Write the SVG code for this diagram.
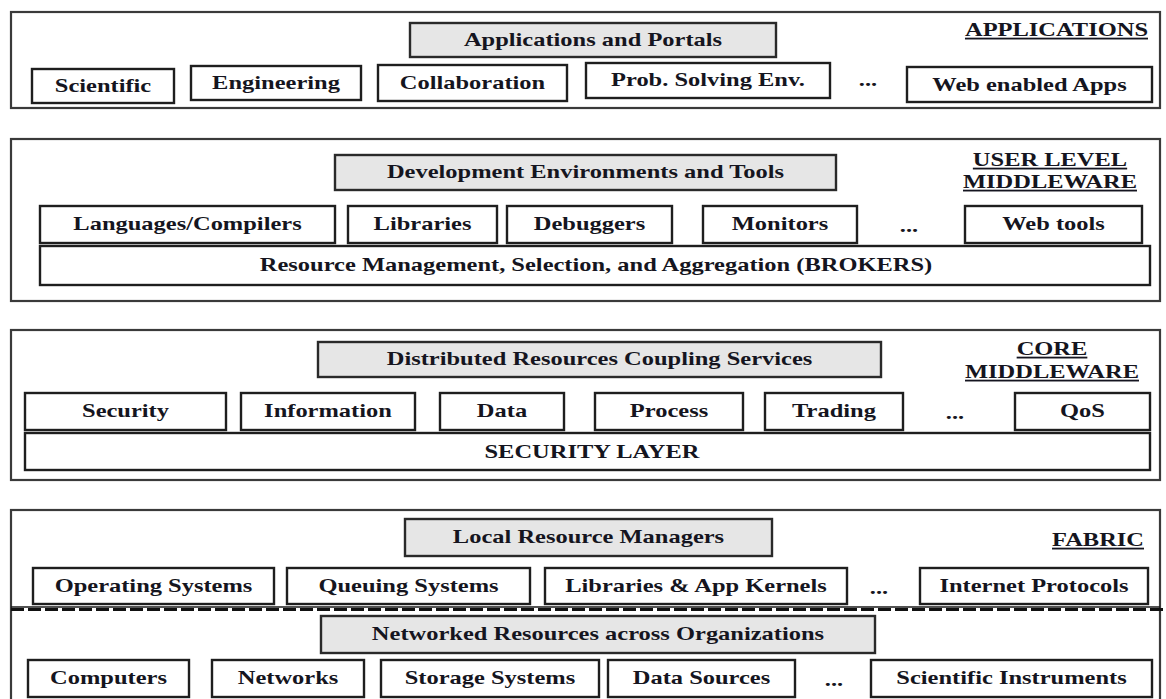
<svg xmlns="http://www.w3.org/2000/svg" width="1166" height="699" viewBox="0 0 1166 699">
  <style>
    .layer { fill: #ffffff; stroke: #3a3a3a; stroke-width: 2.2; }
    .box { fill: #ffffff; stroke: #1e1e1e; stroke-width: 2.4; }
    .head { fill: #e6e6e6; stroke: #2a2a2a; stroke-width: 2.4; }
    text { font-family: "Liberation Serif", "Times New Roman", serif; font-weight: bold; font-size: 18px; fill: #151520; text-anchor: middle; }
    .tag { text-decoration: underline; }
    .end { text-anchor: end; }
  </style>
  <rect width="1166" height="699" fill="#ffffff"/>

  <!-- Applications layer -->
  <g id="layer-applications">
    <rect class="layer" x="11" y="12" width="1149" height="96"/>
    <text class="tag end" transform="translate(1148 36) scale(1.36 1)">APPLICATIONS</text>
  </g>
  <g id="apps-portals"><rect class="head" x="410" y="23" width="366" height="34"/><text transform="translate(593 46) scale(1.36 1)">Applications and Portals</text></g>
  <g id="app-scientific"><rect class="box" x="32" y="69" width="142" height="34"/><text transform="translate(103 92) scale(1.36 1)">Scientific</text></g>
  <g id="app-engineering"><rect class="box" x="191" y="66" width="170" height="34"/><text transform="translate(276 89) scale(1.36 1)">Engineering</text></g>
  <g id="app-collaboration"><rect class="box" x="378" y="65" width="189" height="36"/><text transform="translate(472.5 89) scale(1.36 1)">Collaboration</text></g>
  <g id="app-pse"><rect class="box" x="586" y="63" width="244" height="35"/><text transform="translate(708 86) scale(1.36 1)">Prob. Solving Env.</text></g>
  <g id="app-more"><text transform="translate(868 86) scale(1.36 1)">...</text></g>
  <g id="app-web"><rect class="box" x="907" y="67" width="245" height="35"/><text transform="translate(1029.5 91) scale(1.36 1)">Web enabled Apps</text></g>

  <!-- User level middleware layer -->
  <g id="layer-user-middleware">
    <rect class="layer" x="11" y="139" width="1149" height="162"/>
    <text class="tag" transform="translate(1050 166) scale(1.36 1)">USER LEVEL</text>
    <text class="tag" transform="translate(1050 188) scale(1.36 1)">MIDDLEWARE</text>
  </g>
  <g id="dev-tools"><rect class="head" x="335" y="155" width="501" height="35"/><text transform="translate(585.5 178) scale(1.36 1)">Development Environments and Tools</text></g>
  <g id="tool-languages"><rect class="box" x="40" y="206" width="295" height="37"/><text transform="translate(187.5 230) scale(1.36 1)">Languages/Compilers</text></g>
  <g id="tool-libraries"><rect class="box" x="348" y="206" width="149" height="37"/><text transform="translate(422.5 230) scale(1.36 1)">Libraries</text></g>
  <g id="tool-debuggers"><rect class="box" x="507" y="206" width="165" height="37"/><text transform="translate(589.5 230) scale(1.36 1)">Debuggers</text></g>
  <g id="tool-monitors"><rect class="box" x="703" y="206" width="154" height="37"/><text transform="translate(780 230) scale(1.36 1)">Monitors</text></g>
  <g id="tool-more"><text transform="translate(909 232) scale(1.36 1)">...</text></g>
  <g id="tool-web"><rect class="box" x="965" y="206" width="177" height="37"/><text transform="translate(1053.5 230) scale(1.36 1)">Web tools</text></g>
  <g id="brokers"><rect class="box" x="40" y="246" width="1110" height="39"/><text transform="translate(596 271) scale(1.36 1)">Resource Management, Selection, and Aggregation (BROKERS)</text></g>

  <!-- Core middleware layer -->
  <g id="layer-core-middleware">
    <rect class="layer" x="11" y="330" width="1149" height="150"/>
    <text class="tag" transform="translate(1052 355) scale(1.36 1)">CORE</text>
    <text class="tag" transform="translate(1052 378) scale(1.36 1)">MIDDLEWARE</text>
  </g>
  <g id="coupling-services"><rect class="head" x="318" y="342" width="563" height="35"/><text transform="translate(599.5 365) scale(1.36 1)">Distributed Resources Coupling Services</text></g>
  <g id="svc-security"><rect class="box" x="25" y="393" width="201" height="37"/><text transform="translate(125.5 417) scale(1.36 1)">Security</text></g>
  <g id="svc-information"><rect class="box" x="241" y="393" width="174" height="37"/><text transform="translate(328 417) scale(1.36 1)">Information</text></g>
  <g id="svc-data"><rect class="box" x="440" y="393" width="124" height="37"/><text transform="translate(502 417) scale(1.36 1)">Data</text></g>
  <g id="svc-process"><rect class="box" x="595" y="393" width="148" height="37"/><text transform="translate(669 417) scale(1.36 1)">Process</text></g>
  <g id="svc-trading"><rect class="box" x="765" y="393" width="138" height="37"/><text transform="translate(834 417) scale(1.36 1)">Trading</text></g>
  <g id="svc-more"><text transform="translate(955 419) scale(1.36 1)">...</text></g>
  <g id="svc-qos"><rect class="box" x="1015" y="393" width="135" height="37"/><text transform="translate(1082.5 417) scale(1.36 1)">QoS</text></g>
  <g id="security-layer"><rect class="box" x="25" y="433" width="1125" height="37"/><text transform="translate(592 458) scale(1.36 1)">SECURITY LAYER</text></g>

  <!-- Fabric layer -->
  <g id="layer-fabric">
    <rect class="layer" x="11" y="510" width="1149" height="200"/>
    <text class="tag end" transform="translate(1144 546) scale(1.36 1)">FABRIC</text>
  </g>
  <g id="local-managers"><rect class="head" x="405" y="519" width="367" height="37"/><text transform="translate(588.5 543) scale(1.36 1)">Local Resource Managers</text></g>
  <g id="fab-os"><rect class="box" x="33" y="568" width="241" height="36"/><text transform="translate(153.5 592) scale(1.36 1)">Operating Systems</text></g>
  <g id="fab-queuing"><rect class="box" x="287" y="568" width="243" height="36"/><text transform="translate(408.5 592) scale(1.36 1)">Queuing Systems</text></g>
  <g id="fab-kernels"><rect class="box" x="545" y="568" width="302" height="36"/><text transform="translate(696 592) scale(1.36 1)">Libraries &amp; App Kernels</text></g>
  <g id="fab-more"><text transform="translate(879 594) scale(1.36 1)">...</text></g>
  <g id="fab-internet"><rect class="box" x="920" y="568" width="228" height="36"/><text transform="translate(1034 592) scale(1.36 1)">Internet Protocols</text></g>

  <!-- boundary between local managers and networked resources -->
  <g id="fabric-divider">
    <line x1="11" y1="607" x2="1160" y2="607" stroke="#1a1a1a" stroke-width="1.4"/>
    <line x1="11" y1="609.5" x2="1166" y2="609.5" stroke="#111111" stroke-width="3" stroke-dasharray="13 4"/>
  </g>

  <g id="networked-resources"><rect class="head" x="321" y="616" width="554" height="37"/><text transform="translate(598 640) scale(1.36 1)">Networked Resources across Organizations</text></g>
  <g id="res-computers"><rect class="box" x="28" y="660" width="161" height="37"/><text transform="translate(108.5 684) scale(1.36 1)">Computers</text></g>
  <g id="res-networks"><rect class="box" x="212" y="660" width="152" height="37"/><text transform="translate(288 684) scale(1.36 1)">Networks</text></g>
  <g id="res-storage"><rect class="box" x="381" y="660" width="218" height="37"/><text transform="translate(490 684) scale(1.36 1)">Storage Systems</text></g>
  <g id="res-data"><rect class="box" x="608" y="660" width="187" height="37"/><text transform="translate(701.5 684) scale(1.36 1)">Data Sources</text></g>
  <g id="res-more"><text transform="translate(834 686) scale(1.36 1)">...</text></g>
  <g id="res-instruments"><rect class="box" x="871" y="660" width="281" height="37"/><text transform="translate(1011.5 684) scale(1.36 1)">Scientific Instruments</text></g>
</svg>
